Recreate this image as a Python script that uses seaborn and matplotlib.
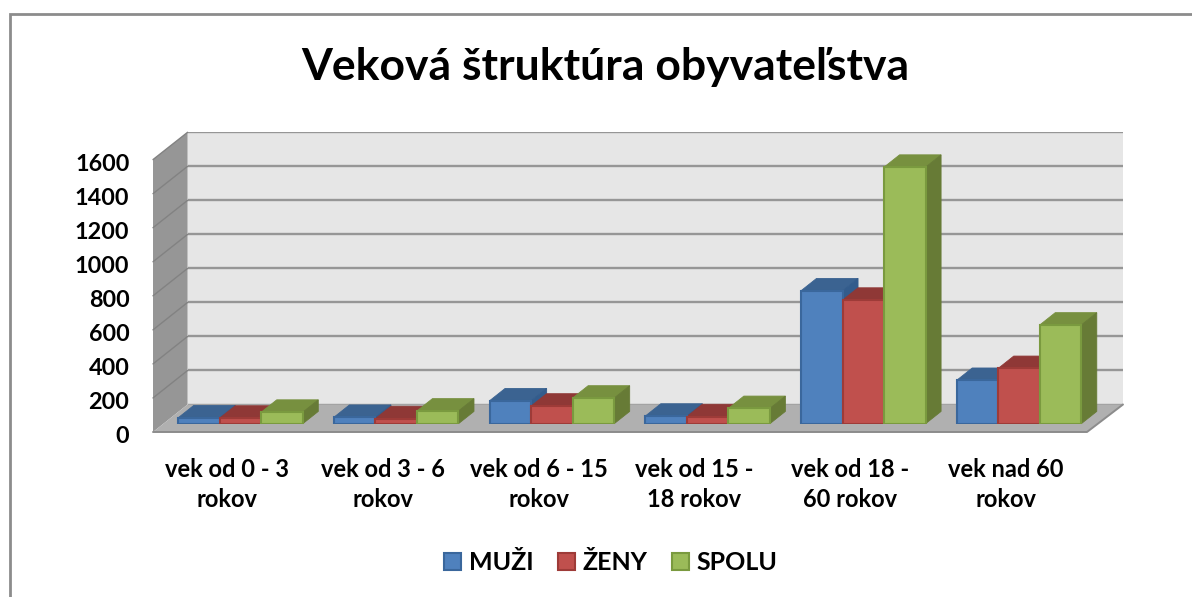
import matplotlib
matplotlib.use("Agg")
import matplotlib.pyplot as plt
import pandas as pd
import seaborn as sns
from matplotlib.lines import Line2D
from matplotlib.patches import Polygon, Rectangle
from matplotlib.transforms import IdentityTransform, ScaledTranslation

categories = ["vek od 0 - 3\nrokov", "vek od 3 - 6\nrokov", "vek od 6 - 15\nrokov",
              "vek od 15 -\n18 rokov", "vek od 18 -\n60 rokov", "vek nad 60\nrokov"]
muzi = [35, 38, 135, 45, 781, 255]
zeny = [33, 30, 104, 42, 726, 325]
spolu = [68, 75, 151, 90, 1507, 580]
series_names = ["MUŽI", "ŽENY", "SPOLU"]
y_ticks = [0, 200, 400, 600, 800, 1000, 1200, 1400, 1600]

face = ["#4F81BD", "#C0504D", "#9BBB59"]
edge = ["#3A679C", "#9E3B38", "#7A9A3F"]
top = ["#3B6391", "#8F3836", "#77903F"]
side = ["#335C8C", "#7F302E", "#677B36"]

W, H = 1192, 597
sns.set_theme(style="white")
plt.rcParams["font.family"] = ["Lato", "DejaVu Sans"]
plt.rcParams["font.weight"] = "bold"
fig = plt.figure(figsize=(W / 100, H / 100), dpi=100, facecolor="white")


def box(x0, x1, ytop, ybot):
    return [x0 / W, 1 - ybot / H, (x1 - x0) / W, (ybot - ytop) / H]


df = pd.DataFrame({
    "cat": categories * 3,
    "series": sum([[s] * len(categories) for s in series_names], []),
    "value": muzi + zeny + spolu,
})

# back wall
ax_back = fig.add_axes(box(187.6, 1123, 132.3, 404.5), zorder=0, facecolor="#E6E6E6")
ax_back.set_xlim(0, 1)
ax_back.set_ylim(0, 1600)
ax_back.set_xticks([])
ax_back.set_yticks(y_ticks)
ax_back.tick_params(left=False, labelleft=False)
ax_back.grid(axis="y", color="#969696", lw=1.7)
for s in ax_back.spines.values():
    s.set_visible(False)

# front frame: carries the axis labels, left wall and floor
ax_front = fig.add_axes(box(153, 1087, 159.6, 432), zorder=1)
ax_front.patch.set_visible(False)
ax_front.set_xlim(-0.5, 5.5)
ax_front.set_ylim(0, 1600)
ax_front.set_yticks(y_ticks)
ax_front.set_xticks(range(len(categories)))
ax_front.set_xticklabels(categories, fontsize=17, fontweight="bold", linespacing=1.35)
ax_front.tick_params(axis="y", length=0, pad=17, labelsize=16.8, labelcolor="black")
ax_front.tick_params(axis="x", length=0, pad=19, labelcolor="black")
for s in ax_front.spines.values():
    s.set_visible(False)
shift = ScaledTranslation(-3.6 / 100, 0, fig.dpi_scale_trans)
for lab in ax_front.get_xticklabels():
    lab.set_transform(lab.get_transform() + shift)
shift_y = ScaledTranslation(0, -2.5 / 100, fig.dpi_scale_trans)
for lab in ax_front.get_yticklabels():
    lab.set_transform(lab.get_transform() + shift_y)

# bars
ax = fig.add_axes(box(162.65, 1096.85, 151.3, 423.7), zorder=2)
ax.patch.set_visible(False)
sns.barplot(data=df, x="cat", y="value", hue="series", order=categories,
            hue_order=series_names, palette=face, width=0.8, saturation=1,
            gap=0, legend=False, ax=ax, zorder=5)
ax.set_xlim(-0.5, 5.5)
ax.set_ylim(0, 1600)
ax.set_xlabel("")
ax.set_ylabel("")
ax.set_xticks([])
ax.set_yticks([])
for s in ax.spines.values():
    s.set_visible(False)

fig.canvas.draw()
px = IdentityTransform()


def poly(owner, pts, fc, ec="none", lw=0, z=1):
    owner.add_patch(Polygon(pts, closed=True, facecolor=fc, edgecolor=ec, linewidth=lw,
                            transform=px, zorder=z, clip_on=False))


# left wall and floor, positions from the front and back axes scales
f = ax_front.transData
b = ax_back.transData
fl0, fr0 = f.transform((-0.5, 0)), f.transform((5.5, 0))
bl0, br0 = b.transform((0, 0)), b.transform((1, 0))
fl1, bl1 = f.transform((-0.5, 1600)), b.transform((0, 1600))
poly(ax_front, [fl0, fl1, bl1, bl0], "#969696", z=1)
poly(ax_front, [fl0, fr0, br0, bl0], "#B0B0B0", z=1)
ax_front.plot([fl0[0], fr0[0], br0[0]], [fl0[1], fr0[1], br0[1]], color="#8C8C8C", lw=1.4,
              transform=px, zorder=2, clip_on=False)
for v in y_ticks[1:]:
    p, q = f.transform((-0.5, v)), b.transform((0, v))
    ax_front.plot([p[0], q[0]], [p[1], q[1]], color="#828282", lw=1, transform=px,
                  zorder=2, clip_on=False)

# 3-D faces of the bars
dx, dy = 15.5, 12.3
for i, cont in enumerate(ax.containers):
    for bar in cont:
        x0, y0 = bar.get_xy()
        (l, bt) = ax.transData.transform((x0, y0))
        (r, tp) = ax.transData.transform((x0 + bar.get_width(), y0 + bar.get_height()))
        poly(ax, [(l, tp), (r, tp), (r + dx, tp + dy), (l + dx, tp + dy)], top[i],
             ec=top[i], lw=0.6, z=2 + i * 0.1)
        poly(ax, [(r, bt), (r + dx, bt + dy), (r + dx, tp + dy), (r, tp)], side[i],
             ec=side[i], lw=0.6, z=2 + i * 0.1)
        bar.set_edgecolor(edge[i])
        bar.set_linewidth(1.5)
        bar.set_zorder(5)

# title
fig.text(605.5 / W, 1 - 67 / H, "Veková štruktúra obyvateľstva", ha="center", va="center",
         fontsize=32, fontweight="bold", color="black")

# legend
handles = [Rectangle((0, 0), 1, 1, facecolor=face[i], edgecolor=edge[i], linewidth=1.5)
           for i in range(3)]
fig.legend(handles, series_names, loc="center", bbox_to_anchor=(611 / W, 1 - 563 / H), ncol=3,
           frameon=False, fontsize=18, handlelength=0.68, handleheight=0.68, handletextpad=0.32,
           columnspacing=0.96, labelcolor="black")

# chart frame: only its top and left edges fall inside the picture
fig.add_artist(Line2D([9.5 / W, 9.5 / W, 1], [0, 1 - 13.5 / H, 1 - 13.5 / H], color="#8C8C8C",
                      linewidth=2, transform=fig.transFigure, solid_joinstyle="miter"))

fig.savefig("out.png", dpi=100, facecolor="white")
